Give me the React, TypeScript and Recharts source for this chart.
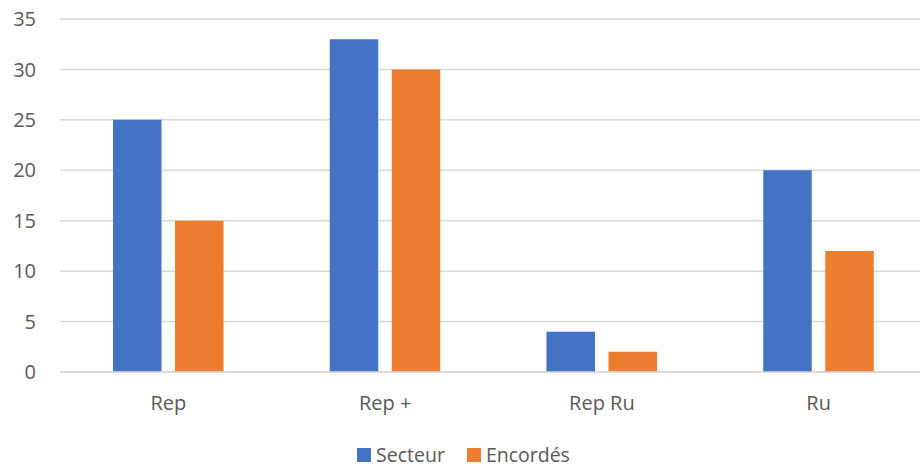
import { BarChart, Bar, XAxis, YAxis, CartesianGrid, Legend } from "recharts";

const categories = ["Rep", "Rep +", "Rep Ru", "Ru"];
const secteur = [25, 33, 4, 20];
const encordes = [15, 30, 2, 12];
const yTicks = [0, 5, 10, 15, 20, 25, 30, 35];
const seriesOrder = ["Secteur", "Encordés"];

const data = categories.map((name, i) => ({
  name,
  secteur: secteur[i],
  encordes: encordes[i],
}));

const textColor = "#595959";
const font = "'Open Sans', sans-serif";

const renderLegend = (props: any) => {
  const payload = [...props.payload].sort(
    (a: any, b: any) => seriesOrder.indexOf(a.value) - seriesOrder.indexOf(b.value)
  );
  return (
    <div
      style={{
        display: "flex",
        justifyContent: "center",
        fontFamily: font,
        fontSize: 19.5,
        lineHeight: "20px",
        height: 20,
        color: textColor,
      }}
    >
      {payload.map((entry: any, i: number) => (
        <div key={i} style={{ display: "flex", alignItems: "center", marginLeft: i ? 22 : 0 }}>
          <span style={{ display: "inline-block", width: 14, height: 14, background: entry.color, marginRight: 5 }} />
          <span>{entry.value}</span>
        </div>
      ))}
    </div>
  );
};

const App = () => {
  return (
    <div style={{ position: "absolute", left: 0, top: 0, width: 920, height: 467, overflow: "hidden" }}>
      <BarChart
        width={927}
        height={467}
        data={data}
        margin={{ top: 19, right: 0, left: 0, bottom: 2 }}
        barCategoryGap={53}
        barGap={13.5}
      >
        <CartesianGrid vertical={false} stroke="#d9d9d9" strokeWidth={1.5} />
        <XAxis
          dataKey="name"
          axisLine={{ stroke: "#d9d9d9", strokeWidth: 1.5 }}
          tickLine={false}
          tickMargin={18}
          height={73}
          tick={{ fontSize: 20, fill: textColor, fontFamily: font }}
        />
        <YAxis
          domain={[0, 35]}
          ticks={yTicks}
          width={60}
          axisLine={false}
          tickLine={false}
          tickMargin={18}
          tick={{ fontSize: 20, fill: textColor, fontFamily: font }}
        />
        <Legend verticalAlign="bottom" content={renderLegend} />
        <Bar dataKey="secteur" name="Secteur" fill="#4472C4" barSize={48.5} isAnimationActive={false} />
        <Bar dataKey="encordes" name="Encordés" fill="#ED7D31" barSize={48.5} isAnimationActive={false} />
      </BarChart>
    </div>
  );
};

export default App;
